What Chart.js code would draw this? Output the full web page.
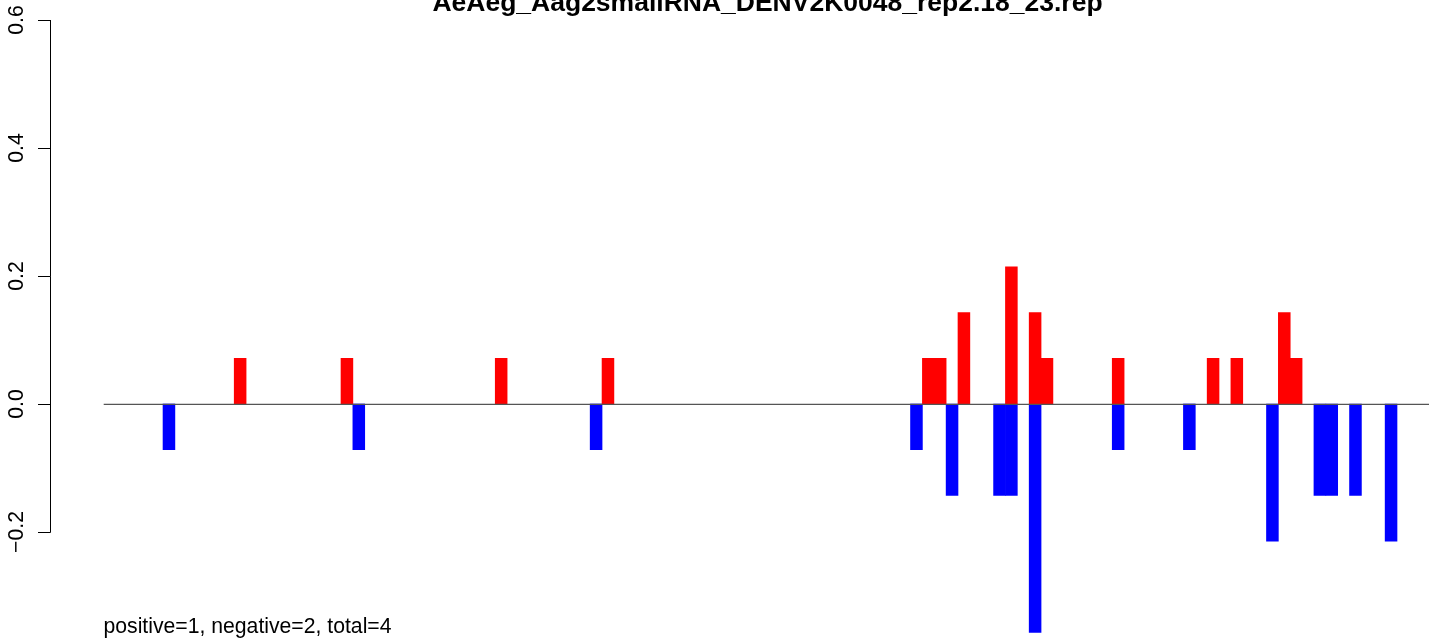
<!DOCTYPE html>
<html>
<head>
<meta charset="utf-8">
<script src="https://cdn.jsdelivr.net/npm/chart.js@4"></script>
<style>
html, body { margin: 0; padding: 0; background: #fff; overflow: hidden; }
#clip { width: 1429px; height: 640px; overflow: hidden; position: relative; }
#wrap { width: 1440px; height: 640px; position: absolute; left: 0; top: 0; }
</style>
</head>
<body>
<div id="clip"><div id="wrap"><canvas id="c"></canvas></div></div>
<script>
const titleText = "AeAeg_Aag2smallRNA_DENV2K0048_rep2.18_23.rep";
const footText = "positive=1, negative=2, total=4";
const nPositions = 112;
const posIndex = [11, 20, 33, 42, 69, 70, 72, 76, 78, 79, 85, 93, 95, 99, 100];
const posValues = [0.0714, 0.0714, 0.0714, 0.0714, 0.0714, 0.0714, 0.1429, 0.2143, 0.1429, 0.0714, 0.0714, 0.0714, 0.0714, 0.1429, 0.0714];
const negIndex = [5, 21, 41, 68, 71, 75, 76, 78, 85, 91, 98, 102, 103, 105, 108];
const negValues = [-0.0714, -0.0714, -0.0714, -0.0714, -0.1429, -0.1429, -0.1429, -0.3571, -0.0714, -0.0714, -0.2143, -0.1429, -0.1429, -0.1429, -0.2143];
const yTicks = [-0.2, 0.0, 0.2, 0.4, 0.6];
const yTickLabels = ["\u22120.2", "0.0", "0.2", "0.4", "0.6"];

const labels = [];
for (let i = 0; i < nPositions; i++) labels.push(String(i + 1));
const posData = new Array(nPositions).fill(null);
posIndex.forEach((k, j) => { posData[k] = posValues[j]; });
const negData = new Array(nPositions).fill(null);
negIndex.forEach((k, j) => { negData[k] = negValues[j]; });

const FONT = '"Liberation Sans", Arial, Helvetica, sans-serif';

const rStyle = {
  id: 'rStyle',
  afterDatasetsDraw(chart) {
    const ctx = chart.ctx;
    const ca = chart.chartArea;
    const y = chart.scales.y;
    ctx.save();
    const y0 = y.getPixelForValue(0);
    ctx.strokeStyle = '#555555';
    ctx.lineWidth = 1.2;
    ctx.beginPath();
    ctx.moveTo(ca.left, y0 + 0.35);
    ctx.lineTo(chart.width, y0 + 0.35);
    ctx.stroke();
    ctx.restore();
  },
  afterDraw(chart) {
    const ctx = chart.ctx;
    const y = chart.scales.y;
    ctx.save();
    const ax = 50;
    const yTop = y.getPixelForValue(yTicks[yTicks.length - 1]);
    const yBot = y.getPixelForValue(yTicks[0]);
    ctx.strokeStyle = '#000';
    ctx.lineWidth = 1;
    ctx.beginPath();
    ctx.moveTo(ax + 0.5, yTop);
    ctx.lineTo(ax + 0.5, yBot + 0.5);
    yTicks.forEach(v => {
      const py = Math.round(y.getPixelForValue(v)) + 0.5;
      ctx.moveTo(ax + 0.5, py);
      ctx.lineTo(38, py);
    });
    ctx.stroke();
    ctx.fillStyle = '#000';
    ctx.font = '21.2px ' + FONT;
    ctx.textAlign = 'center';
    ctx.textBaseline = 'alphabetic';
    yTicks.forEach((v, i) => {
      const py = y.getPixelForValue(v);
      ctx.save();
      ctx.translate(22.5, py);
      ctx.rotate(-Math.PI / 2);
      ctx.fillText(yTickLabels[i], 0, 0);
      ctx.restore();
    });
    ctx.font = 'bold 26.5px ' + FONT;
    ctx.textAlign = 'center';
    ctx.fillText(titleText, 767.5, 11);
    ctx.font = '21.2px ' + FONT;
    ctx.textAlign = 'left';
    ctx.fillText(footText, 103.5, 633);
    ctx.restore();
  }
};

new Chart(document.getElementById('c'), {
  type: 'bar',
  data: {
    labels: labels,
    datasets: [
      { label: 'positive', data: posData, backgroundColor: '#ff0000', borderWidth: 0, grouped: false, clip: false },
      { label: 'negative', data: negData, backgroundColor: '#0000ff', borderWidth: 0, grouped: false, clip: false }
    ]
  },
  options: {
    responsive: true,
    maintainAspectRatio: false,
    devicePixelRatio: 1,
    animation: false,
    layout: { padding: { left: 103.7, right: 7.4, top: 20, bottom: 108 } },
    datasets: { bar: { barPercentage: 1, categoryPercentage: 1 } },
    scales: {
      x: { display: false },
      y: { display: false, min: -0.2, max: 0.6 }
    },
    plugins: { legend: { display: false }, tooltip: { enabled: false }, title: { display: false } }
  },
  plugins: [rStyle]
});
</script>
</body>
</html>
